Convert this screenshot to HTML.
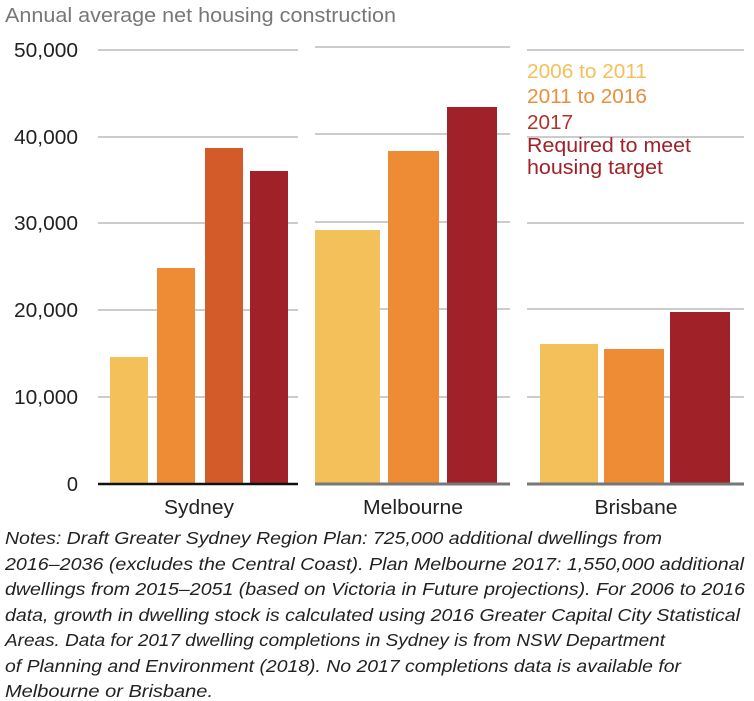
<!DOCTYPE html>
<html><head><meta charset="utf-8"><style>
html,body{margin:0;padding:0;background:#fff;}
svg{display:block;font-family:"Liberation Sans",sans-serif;}
</style></head><body>
<svg width="754" height="701" viewBox="0 0 754 701">
<text x="5" y="22" font-size="20" fill="#777" textLength="391" lengthAdjust="spacingAndGlyphs">Annual average net housing construction</text>
<g stroke="#ccc" stroke-width="2">
<line x1="98" y1="50" x2="298" y2="50"/><line x1="315" y1="47" x2="510" y2="47"/><line x1="527" y1="50" x2="744" y2="50"/>
<line x1="98" y1="137" x2="298" y2="137"/><line x1="315" y1="134" x2="510" y2="134"/><line x1="527" y1="137" x2="744" y2="137"/>
<line x1="98" y1="223" x2="298" y2="223"/><line x1="315" y1="222" x2="510" y2="222"/><line x1="527" y1="223" x2="744" y2="223"/>
<line x1="98" y1="310" x2="298" y2="310"/><line x1="315" y1="309" x2="510" y2="309"/><line x1="527" y1="309" x2="744" y2="309"/>
<line x1="98" y1="397" x2="298" y2="397"/><line x1="315" y1="397" x2="510" y2="397"/><line x1="527" y1="397" x2="744" y2="397"/>
</g>
<g font-size="20" fill="#222" text-anchor="end">
<text x="78" y="57" textLength="64" lengthAdjust="spacingAndGlyphs">50,000</text><text x="78" y="144" textLength="64" lengthAdjust="spacingAndGlyphs">40,000</text><text x="78" y="230" textLength="64" lengthAdjust="spacingAndGlyphs">30,000</text>
<text x="78" y="317" textLength="64" lengthAdjust="spacingAndGlyphs">20,000</text><text x="78" y="404" textLength="64" lengthAdjust="spacingAndGlyphs">10,000</text><text x="78" y="491">0</text>
</g>
<rect x="110" y="357" width="38" height="127" fill="#f3c05a"/>
<rect x="157" y="268" width="38" height="216" fill="#ee8b35"/>
<rect x="205" y="148" width="38" height="336" fill="#d35a29"/>
<rect x="250" y="171" width="38" height="313" fill="#a02127"/>
<rect x="315" y="230" width="65" height="254" fill="#f3c05a"/>
<rect x="388" y="151" width="51" height="333" fill="#ee8b35"/>
<rect x="447" y="107" width="50" height="377" fill="#a02127"/>
<rect x="540" y="344" width="58" height="140" fill="#f3c05a"/>
<rect x="604" y="349" width="60" height="135" fill="#ee8b35"/>
<rect x="670" y="312" width="60" height="172" fill="#a02127"/>
<line x1="98" y1="484" x2="298" y2="484" stroke="#111" stroke-width="2.5"/>
<line x1="315" y1="484" x2="510" y2="484" stroke="#777" stroke-width="3"/>
<line x1="527" y1="484" x2="744" y2="484" stroke="#777" stroke-width="3"/>
<g font-size="20" fill="#222" text-anchor="middle">
<text x="199" y="514" textLength="70" lengthAdjust="spacingAndGlyphs">Sydney</text><text x="413" y="514" textLength="100" lengthAdjust="spacingAndGlyphs">Melbourne</text><text x="636" y="514" textLength="83" lengthAdjust="spacingAndGlyphs">Brisbane</text>
</g>
<g font-size="20">
<text x="527" y="78" fill="#f3c05a" textLength="120" lengthAdjust="spacingAndGlyphs">2006 to 2011</text>
<text x="527" y="103" fill="#e88f3c" textLength="120" lengthAdjust="spacingAndGlyphs">2011 to 2016</text>
<text x="527" y="129" fill="#b0342a" textLength="46" lengthAdjust="spacingAndGlyphs">2017</text>
<text x="527" y="152" fill="#a02127" textLength="164" lengthAdjust="spacingAndGlyphs">Required to meet</text>
<text x="527" y="174" fill="#a02127" textLength="136" lengthAdjust="spacingAndGlyphs">housing target</text>
</g>
<g font-size="17.5" font-style="italic" fill="#222">
<text x="5" y="544" textLength="657" lengthAdjust="spacingAndGlyphs">Notes: Draft Greater Sydney Region Plan: 725,000 additional dwellings from</text>
<text x="5" y="570" textLength="739" lengthAdjust="spacingAndGlyphs">2016–2036 (excludes the Central Coast). Plan Melbourne 2017: 1,550,000 additional</text>
<text x="5" y="595" textLength="740" lengthAdjust="spacingAndGlyphs">dwellings from 2015–2051 (based on Victoria in Future projections). For 2006 to 2016</text>
<text x="5" y="621" textLength="735" lengthAdjust="spacingAndGlyphs">data, growth in dwelling stock is calculated using 2016 Greater Capital City Statistical</text>
<text x="5" y="646" textLength="660" lengthAdjust="spacingAndGlyphs">Areas. Data for 2017 dwelling completions in Sydney is from NSW Department</text>
<text x="5" y="672" textLength="676" lengthAdjust="spacingAndGlyphs">of Planning and Environment (2018). No 2017 completions data is available for</text>
<text x="5" y="697" textLength="208" lengthAdjust="spacingAndGlyphs">Melbourne or Brisbane.</text>
</g>
</svg>
</body></html>
